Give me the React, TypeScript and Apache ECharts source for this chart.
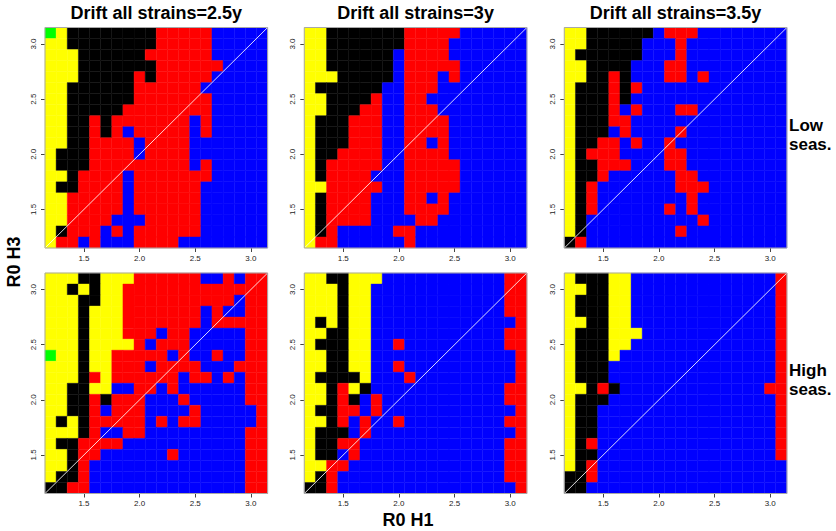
import React, { useEffect, useRef } from "react";
import * as echarts from "echarts";

// R0 of H1 (x) and R0 of H3 (y, listed top row first)
const r0H1 = [1.2, 1.3, 1.4, 1.5, 1.6, 1.7, 1.8, 1.9, 2.0, 2.1, 2.2, 2.3, 2.4, 2.5, 2.6, 2.7, 2.8, 2.9, 3.0, 3.1];
const r0H3 = [3.1, 3.0, 2.9, 2.8, 2.7, 2.6, 2.5, 2.4, 2.3, 2.2, 2.1, 2.0, 1.9, 1.8, 1.7, 1.6, 1.5, 1.4, 1.3, 1.2];
const tickValues = [1.5, 2.0, 2.5, 3.0];

const colTitles = ["Drift all strains=2.5y", "Drift all strains=3y", "Drift all strains=3.5y"];
const rowLabels = [["Low", "seas."], ["High", "seas."]];

// outcome codes: Y yellow, K black, R red, B blue, G green
const outcomeCodes = ["Y", "K", "R", "B", "G"];
const outcomeColors = ["#FFFF00", "#000000", "#FF0000", "#0000FF", "#00FF00"];

const lowSeas25 = [
  "GYKKKKKKKKRRRRRBBBBB",
  "YYKKKKKKKKRRRRRBBBBB",
  "YYYKKKKKKRRRRRRBBBBB",
  "YYYKKKKKKKRRRRRRBBBB",
  "YYYKKKKKRKRRRRRBBBBB",
  "YYKKKKKKRRRRRRBBBBBB",
  "YYKKKKKKRRRRRRRBBBBB",
  "YYKKKKKRRRRRRRRBBBBB",
  "YYKKRKRRRRRRRBRBBBBB",
  "YYKKRKRBRRRRRBRBBBBB",
  "YYKKRRRRBRRRRBBBBBBB",
  "YKKKRRRRBRRRRBBBBBBB",
  "YKKKRRRRRRRRRBRBBBBB",
  "YYKRRRRBRRRRRRRBBBBB",
  "YKKRRRRBRRRRRRBBBBBB",
  "YYRRRRRBRRRRRRBBBBBB",
  "YYRRRRRBRRRRRRBBBBBB",
  "YYRRRRBBBRRRRRBBBBBB",
  "YKRRRBRBRRRRRRBBBBBB",
  "YRRBRBBBRRRRBBBBBBBB",
];

const lowSeas3 = [
  "YYKKKKKKKRRRRRBBBBBB",
  "YYKKKKKKKRRRRBBBBBBB",
  "YYKKKKKKBRRRRBBBBBBB",
  "YYKKKKKKBRRRRRBBBBBB",
  "YYYKKKKKBRRRBRBBBBBB",
  "YKKKKKKBBRRRBBBBBBBB",
  "YYKKKKRBBRRBBBBBBBBB",
  "YYKKKRRBBRRRBBBBBBBB",
  "YKKKRRRBBRRRRBBBBBBB",
  "YKKKRRRBBRRRRBBBBBBB",
  "YKKKRRRBBRRBRBBBBBBB",
  "YKKRRRRBBRRRRBBBBBBB",
  "YKRRRRRBBRRRRRBBBBBB",
  "YKRRRRBBBRRRRRBBBBBB",
  "YYRRRRRBBRRRRRBBBBBB",
  "YKRRRRBBBRRBRBBBBBBB",
  "YKRRRRBBBRRRRBBBBBBB",
  "YKRRRRBBBBRRBBBBBBBB",
  "YKRBBBBBRRBBBBBBBBBB",
  "YRRBBBBBBRBBBBBBBBBB",
];

const lowSeas35 = [
  "YYKKKKKKBRRRBBBBBBBB",
  "YYKKKKKBBBRBBBBBBBBB",
  "YKKKKKKBBBRBBBBBBBBB",
  "YYKKKKBBBRRBBBBBBBBB",
  "YYKKRKBBBRRBRBBBBBBB",
  "YKKKRKRBBBBBBBBBBBBB",
  "YKKKRKBBBBBBBBBBBBBB",
  "YKKKRBRBBBRRBBBBBBBB",
  "YKKKRRBBBBBBBBBBBBBB",
  "YKKKBRBBBBRBBBBBBBBB",
  "YKKRRBRBBRBBBBBBBBBB",
  "YKRRRBBBBRRBBBBBBBBB",
  "YKKRRRBBBRRBBBBBBBBB",
  "YKKRBBBBBBRRBBBBBBBB",
  "YKRBBBBBBBRRRBBBBBBB",
  "YKRBBBBBBBBRBBBBBBBB",
  "YKRBBBBBBRBRBBBBBBBB",
  "YKBBBBBBBBBBRBBBBBBB",
  "YKBBBBBBBBRBBBBBBBBB",
  "KRBBBBBBBBBBBBBBBBBB",
];

const highSeas25 = [
  "YYYKKYYYRRRRRRBBRBRR",
  "YYKYKYYRRRRRRRRRRRRR",
  "YYYKKYYRRRRRRRRRRBRR",
  "YYYKYYYRRRRRRRBRBBRR",
  "YYYKYYYRRRRRRRBRRRRR",
  "YYYKYYYRRRBRRBBBBBRR",
  "YYYKYYYYRBRRRBBBBBRR",
  "GYYKYYRRRRRBRBBRBBRR",
  "YYYKYYRRRBRRRRBBBRRR",
  "YYYKRYRRRRRRBRRBRBRR",
  "YYKKYYBBRRBRBBBBBBRR",
  "YYKKRKRRRBBBRBBBBBRR",
  "YYKKRBRRRBBBBRBBBBBR",
  "YKYKRRRRRBRBRRBBBBBR",
  "YYYKRBBRRBBBBBBBBBRR",
  "YKKRRRRBBBBBBBBBBBRR",
  "YYKRRBBBBBBRBBBBBBRR",
  "YYKRBBBBBBBBBBBBBBRR",
  "YKKRBBBBBBBBBBBBBBRR",
  "KKRRBBBBBBBBBBBBBBRR",
];

const highSeas3 = [
  "YYKKYYYBBBBBBBBBBBRR",
  "YYYKYYBBBBBBBBBBBBRR",
  "YYYKYYBBBBBBBBBBBBRR",
  "YYYKYYBBBBBBBBBBBBRR",
  "YKYKYYBBBBBBBBBBBBBR",
  "YYKKYYBBBBBBBBBBBBRR",
  "YKKKYYBBRBBBBBBBBBRR",
  "YYKKYYBBBBBBBBBBBBBR",
  "YYKKYYBBRBBBBBBBBBBR",
  "YKKKKYBBBRBBBBBBBBBR",
  "YYKRYKBBBBBBBBBBBBRR",
  "YYKRKBRBBBBBBBBBBBRR",
  "YKKRRBRBBBBBBBBBBBBR",
  "YYKRBRBBRBBBBBBBBBRR",
  "YKKKBRBBBBBBBBBBBBBR",
  "YKKRRBBBBBBBBBBBBBRR",
  "YKKBRBBBBBBBBBBBBBRR",
  "YYRRBBBBBBBBBBBBBBRR",
  "YKRBBBBBBBBBBBBBBBRR",
  "KKRBBBBBBBBBBBBBBBBR",
];

const highSeas35 = [
  "YKKKYYBBBBBBBBBBBBBR",
  "YYKKYYBBBBBBBBBBBBBR",
  "YKKKYYBBBBBBBBBBBBBR",
  "YKKKYYBBBBBBBBBBBBBR",
  "YYKKYYBBBBBBBBBBBBBR",
  "YKKKYYYBBBBBBBBBBBBR",
  "YKKKYYBBBBBBBBBBBBBR",
  "YKKKYBBBBBBBBBBBBBBR",
  "YKKKBBBBBBBBBBBBBBBR",
  "YKKKBBBBBBBBBBBBBBBR",
  "YYKRKBBBBBBBBBBBBBRR",
  "YKKKBBBBBBBBBBBBBBBR",
  "YKKBBBBBBBBBBBBBBBBR",
  "YKKBBBBBBBBBBBBBBBBR",
  "YKKBBBBBBBBBBBBBBBBR",
  "YKRBBBBBBBBBBBBBBBBR",
  "YKKBBBBBBBBBBBBBBBBR",
  "YKRBBBBBBBBBBBBBBBBB",
  "KKRBBBBBBBBBBBBBBBBB",
  "KKBBBBBBBBBBBBBBBBBB",
];

const panels = [lowSeas25, lowSeas3, lowSeas35, highSeas25, highSeas3, highSeas35];

// layout (pixels)
const PANEL_LEFT = [45, 304.3, 564.3];
const PANEL_TOP = [27.5, 273];
const PANEL_W = 222.6;
const PANEL_H = 220.5;
const FONT = "'Liberation Sans', Arial, Helvetica, sans-serif";

export default function App() {
  const ref = useRef<HTMLDivElement>(null);

  useEffect(() => {
    if (!ref.current) return;
    const chart = echarts.init(ref.current, undefined, { renderer: "svg" });
    const half = (r0H1[1] - r0H1[0]) / 2;
    const axMin = r0H1[0] - half;
    const axMax = r0H1[r0H1.length - 1] + half;

    const grids: any[] = [];
    const xAxes: any[] = [];
    const yAxes: any[] = [];
    const series: any[] = [];

    panels.forEach((rows, p) => {
      const row = Math.floor(p / 3);
      const col = p % 3;
      grids.push({
        left: PANEL_LEFT[col],
        top: PANEL_TOP[row],
        width: PANEL_W,
        height: PANEL_H,
        show: true,
        backgroundColor: "transparent",
        borderColor: "#a8a8a8",
        borderWidth: 1,
        z: 10,
      });
      const axisCommon = {
        type: "value",
        gridIndex: p,
        min: axMin,
        max: axMax,
        splitLine: { show: false },
        axisLine: { show: false },
        axisTick: { show: true, customValues: tickValues, length: 4, lineStyle: { color: "#444", width: 1 } },
      };
      xAxes.push({
        ...axisCommon,
        axisLabel: {
          customValues: tickValues,
          formatter: (v: number) => v.toFixed(1),
          fontSize: 8,
          color: "#222",
          fontFamily: FONT,
          margin: 6,
        },
      });
      yAxes.push({
        ...axisCommon,
        axisLabel: {
          customValues: tickValues,
          formatter: (v: number) => v.toFixed(1),
          fontSize: 8,
          color: "#222",
          fontFamily: FONT,
          rotate: 90,
          margin: 8,
        },
      });
      const data: number[][] = [];
      rows.forEach((line, i) => {
        for (let j = 0; j < line.length; j++) {
          data.push([r0H1[j], r0H3[i], outcomeCodes.indexOf(line[j])]);
        }
      });
      series.push({
        type: "custom",
        xAxisIndex: p,
        yAxisIndex: p,
        data,
        encode: { x: 0, y: 1 },
        z: 2,
        renderItem: (_params: any, api: any) => {
          const x = api.value(0) as number;
          const y = api.value(1) as number;
          const k = api.value(2) as number;
          const a = api.coord([x - half, y + half]);
          const b = api.coord([x + half, y - half]);
          return {
            type: "rect",
            shape: { x: a[0], y: a[1], width: b[0] - a[0], height: b[1] - a[1] },
            style: { fill: outcomeColors[k], stroke: outcomeColors[k], lineWidth: 0.4 },
          };
        },
      });
      series.push({
        type: "line",
        xAxisIndex: p,
        yAxisIndex: p,
        data: [
          [axMin, axMin],
          [axMax, axMax],
        ],
        symbol: "none",
        z: 5,
        silent: true,
        lineStyle: { color: "#ffffff", width: 1, opacity: 0.85 },
      });
    });

    const graphics: any[] = [];
    colTitles.forEach((t, c) => {
      graphics.push({
        type: "text",
        x: PANEL_LEFT[c] + PANEL_W / 2,
        y: 13,
        style: { text: t, font: `bold 18px ${FONT}`, fill: "#000", textAlign: "center", textVerticalAlign: "middle" },
      });
    });
    rowLabels.forEach((lines, r) => {
      const cy = PANEL_TOP[r] + PANEL_H / 2 - 3;
      lines.forEach((t, li) => {
        graphics.push({
          type: "text",
          x: 789,
          y: cy + (li === 0 ? -9.5 : 9.5),
          style: { text: t, font: `bold 17px ${FONT}`, fill: "#000", textAlign: "left", textVerticalAlign: "middle" },
        });
      });
    });
    graphics.push({
      type: "text",
      x: 408,
      y: 520,
      style: { text: "R0 H1", font: `bold 18px ${FONT}`, fill: "#000", textAlign: "center", textVerticalAlign: "middle" },
    });
    graphics.push({
      type: "text",
      x: 14,
      y: 262,
      rotation: Math.PI / 2,
      style: { text: "R0 H3", font: `bold 18px ${FONT}`, fill: "#000", textAlign: "center", textVerticalAlign: "middle" },
    });

    chart.setOption({
      animation: false,
      backgroundColor: "#ffffff",
      grid: grids,
      xAxis: xAxes,
      yAxis: yAxes,
      series,
      graphic: graphics,
    });
    return () => chart.dispose();
  }, []);

  return <div ref={ref} style={{ position: "absolute", left: 0, top: 0, width: 836, height: 531 }} />;
}
